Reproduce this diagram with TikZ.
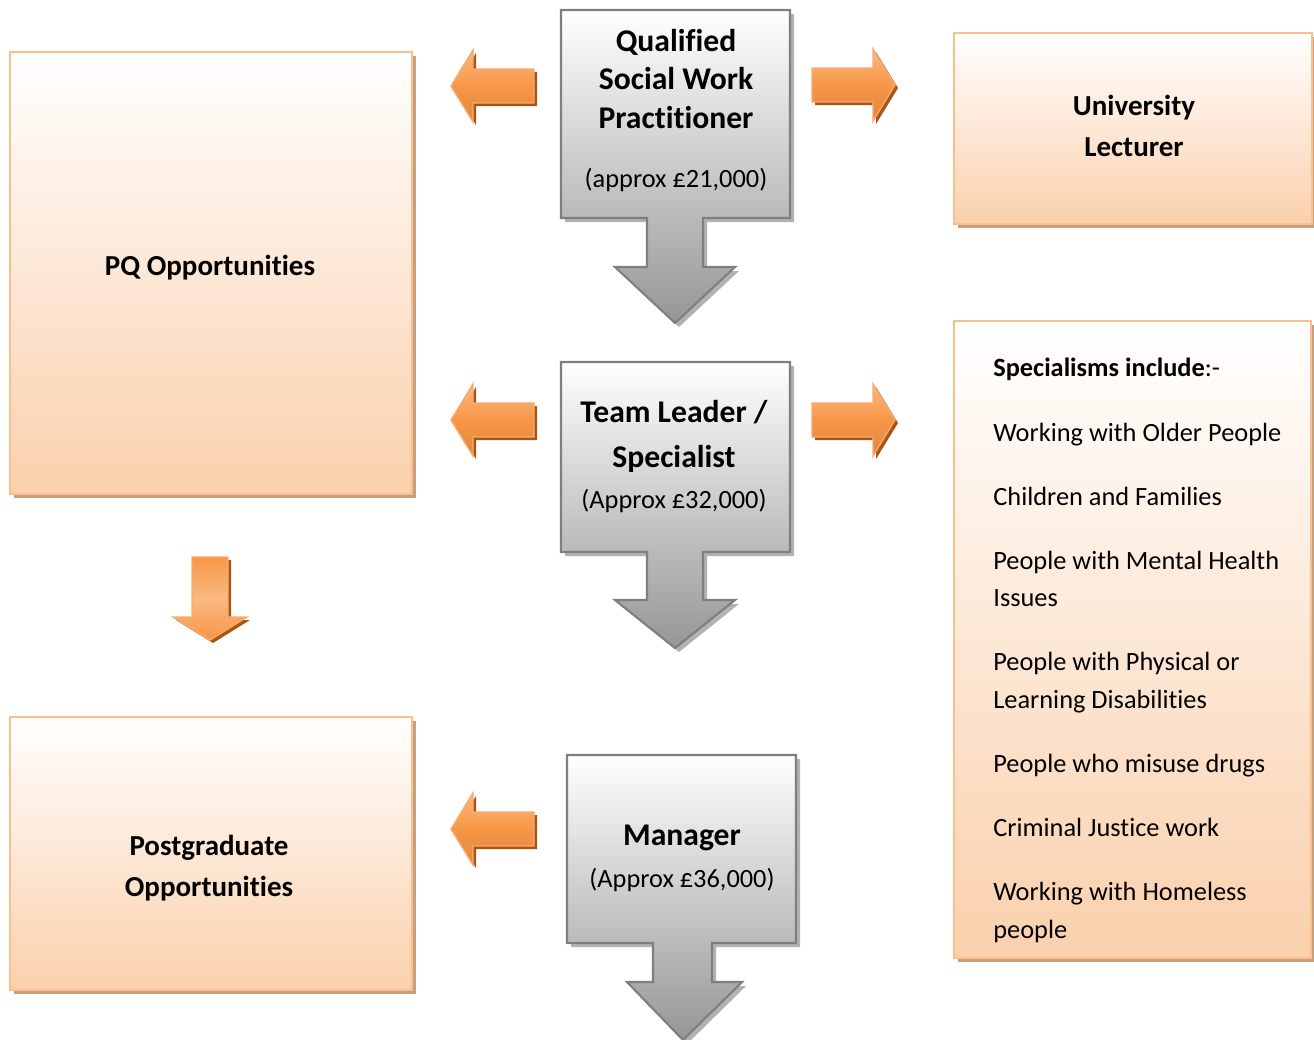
\documentclass[tikz,border=0pt]{standalone}
\usepackage{fontspec}
\setmainfont[Ligatures={NoCommon}]{Carlito}
\usepackage{tikz}
\usetikzlibrary{shadows}

\definecolor{peachedge}{RGB}{249,191,143}
\definecolor{peach}{RGB}{250,208,172}
\definecolor{peachshadow}{RGB}{200,160,125}
\definecolor{greyedge}{RGB}{127,127,127}
\definecolor{greybottom}{RGB}{150,150,150}
\definecolor{arrorange}{RGB}{247,150,70}
\definecolor{arrlight}{RGB}{250,185,130}
\definecolor{arredge}{RGB}{248,170,110}
\definecolor{arrshadow}{RGB}{170,85,20}

\tikzset{
  peachbox/.style={draw=peachedge, line width=1.6pt, top color=white, bottom color=peach,
    drop shadow={shadow xshift=0.8mm, shadow yshift=-0.8mm, fill=peachshadow, opacity=1}},
  greycallout/.style={draw=greyedge, line width=1.2pt, top color=white, bottom color=greybottom,
    drop shadow={shadow xshift=0.8mm, shadow yshift=-0.8mm, fill=black!30, opacity=1}},
  orangearrow/.style={draw=arredge, line width=0.8pt, top color=arrlight, bottom color=arrorange!90!black, middle color=arrorange,
    drop shadow={shadow xshift=0.6mm, shadow yshift=-0.6mm, fill=arrshadow, opacity=1}},
  boxtitle/.style={font=\fontsize{16.5}{23}\selectfont\bfseries, align=center},
  calltitle/.style={font=\fontsize{18}{22}\selectfont\bfseries, align=center},
  paytext/.style={font=\fontsize{15}{18}\selectfont},
  listline/.style={font=\fontsize{15}{18}\selectfont, anchor=base west, inner sep=0pt}
}

\begin{document}
\begin{tikzpicture}[x=0.02cm,y=0.02cm]
  \useasboundingbox (0,0) rectangle (1314,-1039);

  %orange boxes
  \draw[peachbox] (10,-52) rectangle (412,-494);
  \draw[peachbox] (10,-717) rectangle (412,-990);
  \draw[peachbox] (954,-33) rectangle (1312,-224);
  \draw[peachbox] (954,-321) rectangle (1311,-958);

  %grey callouts
  \draw[greycallout] (561,-10) -- (790,-10) -- (790,-218) -- (703,-218) -- (703,-267) -- (735,-267)
    -- (675,-323) -- (615,-267) -- (647,-267) -- (647,-218) -- (561,-218) -- cycle;
  \draw[greycallout] (561,-362) -- (790,-362) -- (790,-552) -- (703,-552) -- (703,-600) -- (735,-600)
    -- (675,-648) -- (615,-600) -- (647,-600) -- (647,-552) -- (561,-552) -- cycle;
  \draw[greycallout] (567,-755) -- (796,-755) -- (796,-943) -- (712,-943) -- (712,-982) -- (742,-982)
    -- (683,-1040) -- (627,-982) -- (653,-982) -- (653,-943) -- (567,-943) -- cycle;

  %orange arrows
  \foreach \y in {86,420,829}
    \draw[orangearrow] (451,-\y) -- (473,-\y+36) -- (473,-\y+17) -- (534,-\y+17) -- (534,-\y-17)
      -- (473,-\y-17) -- (473,-\y-36) -- cycle;
  \foreach \y in {85,420}
    \draw[orangearrow] (895,-\y) -- (873,-\y+36) -- (873,-\y+17) -- (812,-\y+17) -- (812,-\y-17)
      -- (873,-\y-17) -- (873,-\y-36) -- cycle;
  \draw[orangearrow, top color=arrorange, bottom color=arrorange, middle color=arrlight]
    (192,-557) -- (228,-557) -- (228,-617) -- (247,-617) -- (210,-640) -- (173,-617) -- (192,-617) -- cycle;

  %texts
  \node[calltitle] (qswp) at (676,-79) {Qualified\\Social Work\\Practitioner};
  \node[paytext] (qpay) at (676,-180) {(approx £21,000)};
  \node[calltitle, font=\fontsize{18}{25.5}\selectfont\bfseries] (team) at (674,-436) {Team Leader /\\Specialist};
  \node[paytext] (tpay) at (674,-501) {(Approx £32,000)};
  \node[calltitle] (man) at (682,-838) {Manager};
  \node[paytext] (mpay) at (682,-880) {(Approx £36,000)};

  \node[boxtitle] (uni) at (1134,-126) {University\\Lecturer};
  \node[boxtitle] (pq) at (210,-268) {PQ Opportunities};
  \node[boxtitle] (pg) at (209,-868) {Postgraduate\\Opportunities};

  \node[listline] (s0) at (993,-376) {\textbf{Specialisms include}:-};
  \foreach \y/\t [count=\i] in {441/Working with Older People, 505/Children and Families,
      569/People with Mental Health, 606/Issues, 670/People with Physical or,
      708/Learning Disabilities, 772/People who misuse drugs, 836/Criminal Justice work,
      900/Working with Homeless, 938/people}
    \node[listline] (s\i) at (993,-\y) {\t};

\end{tikzpicture}
\end{document}
